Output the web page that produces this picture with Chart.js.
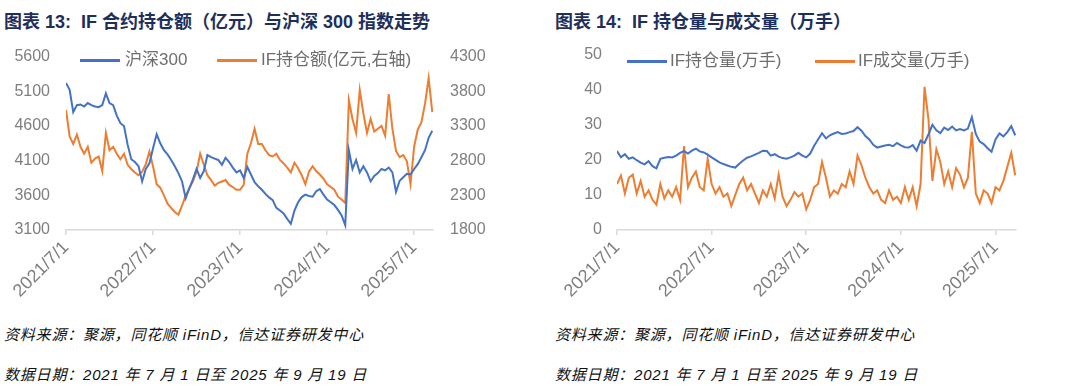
<!DOCTYPE html>
<html>
<head>
<meta charset="utf-8">
<script src="https://cdn.jsdelivr.net/npm/chart.js@4.4.0/dist/chart.umd.min.js"></script>
<style>
  body { margin: 0; width: 1080px; height: 386px; background: #fff; position: relative; overflow: hidden;
         font-family: "Liberation Sans", "Noto Sans CJK SC", sans-serif; }
  .title { position: absolute; top: 7px; font-size: 18px; font-weight: bold; color: #1f2f5c; white-space: pre; }
  .foot { position: absolute; font-size: 15px; font-style: italic; color: #111; white-space: pre; letter-spacing: 0.8px; }
  canvas { position: absolute; top: 30px; }
  .lg { position: absolute; font-size: 17px; color: #6e6e6e; white-space: pre; line-height: 20px; }
  .ln { position: absolute; height: 2.5px; width: 40px; }
</style>
</head>
<body>
<div class="title" style="left:4px">图表 13:  IF 合约持仓额（亿元）与沪深 300 指数走势</div>
<div class="title" style="left:555px">图表 14:  IF 持仓量与成交量（万手）</div>

<canvas id="c1" width="540" height="285" style="left:0"></canvas>
<canvas id="c2" width="540" height="285" style="left:540px"></canvas>

<div class="ln" style="left:80px;top:59px;background:#4472c4"></div>
<div class="lg" style="left:125px;top:50px">沪深300</div>
<div class="ln" style="left:217px;top:59px;background:#ed7d31"></div>
<div class="lg" style="left:261px;top:50px">IF持仓额(亿元,右轴)</div>

<div class="ln" style="left:627px;top:60px;background:#4472c4"></div>
<div class="lg" style="left:670px;top:51px">IF持仓量(万手)</div>
<div class="ln" style="left:815px;top:60px;background:#ed7d31"></div>
<div class="lg" style="left:858px;top:51px">IF成交量(万手)</div>

<div class="foot" style="left:4px;top:323px">资料来源：聚源，同花顺 iFinD，信达证券研发中心</div>
<div class="foot" style="left:4px;top:363px">数据日期：2021 年 7 月 1 日至 2025 年 9 月 19 日</div>
<div class="foot" style="left:555px;top:323px">资料来源：聚源，同花顺 iFinD，信达证券研发中心</div>
<div class="foot" style="left:555px;top:363px">数据日期：2021 年 7 月 1 日至 2025 年 9 月 19 日</div>

<script>
// one reading every half month, starting 2021/7/1
const stepMonths = 0.5;
const tickLabels = ['2021/7/1', '2022/7/1', '2023/7/1', '2024/7/1', '2025/7/1'];

// 沪深300 (left axis)
const hs300 = [
  5220, 5120, 4800, 4900, 4910, 4880, 4930, 4900, 4880, 4870,
  4900, 5070, 4930, 4900, 4750, 4640, 4600, 4330, 4120, 4080,
  4020, 3800, 3980, 4060, 4280, 4480, 4350, 4250, 4190, 4110,
  4020, 3920, 3800, 3560, 3700, 3830, 3980, 3850, 3950, 4180,
  4150, 4130, 4110, 4040, 4140, 4080, 4000, 3930, 3960, 3850,
  4010, 3900, 3790, 3730, 3680, 3620, 3570, 3530, 3420, 3380,
  3340, 3260, 3190, 3380, 3500, 3575, 3610, 3590, 3580, 3660,
  3690, 3610, 3540, 3500, 3460, 3390, 3310, 3170, 4250, 3980,
  4110, 3930, 4020, 3930, 3800, 3880, 3920, 3980, 3960, 4000,
  3930, 3650, 3810, 3860, 3910, 3900, 3980, 4050, 4150, 4250,
  4430, 4530
];

// IF持仓额 亿元 (right axis)
const ifOiValue = [
  3530, 3150, 3040, 3175, 3000, 2900, 3000, 2770, 2830, 2860,
  2650, 3200, 2950, 3000, 2900, 2820, 2900, 2740, 2680, 2630,
  2590, 2640, 2750, 2930, 2720, 2460, 2410, 2300, 2180, 2120,
  2060, 2020, 2150, 2300, 2400, 2500, 2640, 2900, 2740, 2590,
  2520, 2440, 2480, 2500, 2520, 2450, 2420, 2380, 2380, 2450,
  2900, 3050, 3260, 3040, 3040, 2950, 2880, 2860, 2900, 2810,
  2760, 2700, 2630, 2770, 2690, 2590, 2460, 2640, 2720, 2650,
  2600, 2540, 2460, 2420, 2380, 2280, 2240, 2190, 3670, 3400,
  3200, 3820, 3480, 3200, 3400, 3220, 3260, 3300, 3160, 3760,
  3260, 2940, 2850, 2880, 2790, 2460, 3000, 3250, 3350, 3620,
  3990, 3500
];

// IF持仓量 万手
const ifOi = [
  22.5, 20.7, 21.6, 20.3, 20.7, 19.9, 19.2, 18.7, 19.6, 18.2,
  17.6, 20.3, 20.6, 20.8, 20.7, 21.2, 22.0, 22.5, 21.8, 22.6,
  23.2, 22.4, 22.1, 21.5, 20.7, 20.0, 19.3, 18.8, 18.4, 18.0,
  17.8, 18.9, 19.8, 20.6, 21.0, 21.5, 22.0, 22.6, 22.5, 21.2,
  21.6, 20.9, 20.5, 20.3, 20.7, 21.2, 22.0, 21.2, 20.7, 21.8,
  24.0, 25.8, 27.6, 26.1, 27.0, 27.5, 27.9, 27.4, 27.5, 27.9,
  28.2, 29.3, 28.3, 26.8, 25.8, 24.3, 23.5, 23.8, 24.1, 24.3,
  23.9, 24.8, 24.1, 23.6, 23.5, 24.2, 22.6, 25.5, 24.8, 27.3,
  30.0, 28.4, 27.6, 29.2, 28.5, 29.5, 28.4, 28.8, 28.4, 28.9,
  32.2, 27.4, 25.2, 24.5, 23.3, 22.3, 25.8, 27.5, 26.7, 27.9,
  29.6, 27.0
];

// IF成交量 万手
const ifVolume = [
  13.1, 15.5, 10.4, 14.9, 15.8, 10.4, 14.0, 9.5, 11.3, 8.6,
  7.2, 13.1, 9.0, 11.3, 9.5, 12.2, 8.6, 23.9, 12.2, 14.9,
  16.7, 12.2, 11.3, 20.3, 13.1, 10.4, 12.2, 9.5, 10.4, 6.8,
  10.0, 13.1, 14.9, 11.3, 13.1, 10.4, 7.7, 11.3, 9.5, 13.1,
  9.0, 15.8, 9.5, 6.8, 8.6, 10.8, 9.5, 10.4, 5.9, 8.6,
  12.2, 13.1, 19.4, 14.9, 9.5, 11.3, 10.4, 13.1, 12.2, 16.7,
  13.1, 21.2, 18.5, 14.9, 12.2, 10.4, 11.3, 8.6, 7.7, 11.3,
  8.6, 9.5, 7.7, 12.2, 8.6, 12.2, 6.8, 13.1, 40.8, 31.5,
  14.0, 23.0, 19.4, 13.1, 16.7, 12.2, 17.6, 15.8, 12.2, 14.9,
  28.0, 10.4, 7.7, 11.3, 10.4, 7.7, 12.2, 11.3, 14.0, 18.0,
  22.0, 15.6
];

const BLUE = '#4472c4';
const ORANGE = '#ed7d31';
const TICK_COLOR = '#7f7f7f';
const AXIS_COLOR = '#d9d9d9';
const tickFont = { family: 'Liberation Sans', size: 16 };

const toPoints = (arr) => arr.map((v, i) => ({ x: i * stepMonths, y: v }));

function xAxis() {
  return {
    type: 'linear',
    min: 0,
    max: 50.6,
    afterFit: (s) => { s.height = 85; },
    ticks: {
      stepSize: 12,
      includeBounds: false,
      autoSkip: false,
      minRotation: 45,
      maxRotation: 45,
      padding: 2,
      color: TICK_COLOR,
      font: { family: 'Liberation Sans', size: 18 },
      callback: (v) => tickLabels[v / 12]
    },
    grid: { drawOnChartArea: false, drawTicks: true, tickLength: 5, color: AXIS_COLOR, lineWidth: 1.5 },
    border: { display: true, color: AXIS_COLOR, width: 1.5 }
  };
}

function yAxis(min, max, step, pos, width, pad) {
  return {
    type: 'linear',
    position: pos,
    min: min,
    max: max,
    afterFit: (s) => { s.width = width; },
    ticks: { stepSize: step, color: TICK_COLOR, font: tickFont, padding: pad, callback: (v) => String(v) },
    grid: { display: false, drawTicks: false },
    border: { display: false }
  };
}

const common = {
  responsive: false,
  animation: false,
  devicePixelRatio: 1,
  plugins: { legend: { display: false }, tooltip: { enabled: false } },
  elements: { point: { radius: 0 }, line: { borderWidth: 2, tension: 0 } }
};

new Chart(document.getElementById('c1'), {
  type: 'line',
  data: {
    datasets: [
      { label: '沪深300', data: toPoints(hs300), borderColor: BLUE, yAxisID: 'y' },
      { label: 'IF持仓额(亿元,右轴)', data: toPoints(ifOiValue), borderColor: ORANGE, yAxisID: 'y2' }
    ]
  },
  options: Object.assign({}, common, {
    layout: { padding: { top: 15, left: 0, right: 0, bottom: 0 } },
    scales: {
      x: xAxis(),
      y: yAxis(3100, 5600, 500, 'left', 66, 16),
      y2: yAxis(1800, 4300, 500, 'right', 107, 17)
    }
  })
});

new Chart(document.getElementById('c2'), {
  type: 'line',
  data: {
    datasets: [
      { label: 'IF持仓量(万手)', data: toPoints(ifOi), borderColor: BLUE },
      { label: 'IF成交量(万手)', data: toPoints(ifVolume), borderColor: ORANGE }
    ]
  },
  options: Object.assign({}, common, {
    layout: { padding: { top: 15, left: 0, right: 64, bottom: 0 } },
    scales: {
      x: xAxis(),
      y: yAxis(0, 50, 10, 'left', 77, 15)
    }
  })
});
</script>
</body>
</html>
